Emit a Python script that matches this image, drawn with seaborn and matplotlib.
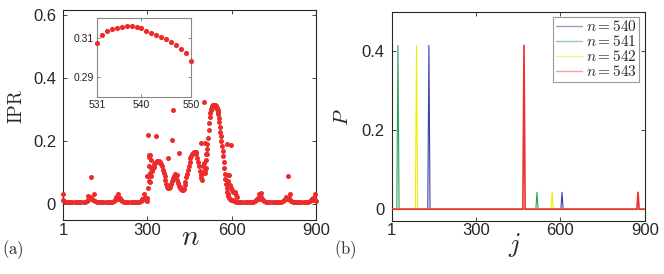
import matplotlib
matplotlib.use('Agg')
import matplotlib.pyplot as plt
from matplotlib.lines import Line2D
import pandas as pd
import seaborn as sns

# ---------------- panel (a): IPR vs n ----------------
n_left = [1, 4, 10, 18, 26, 34, 42, 50, 58, 66, 74, 80, 85, 89, 93, 97, 101, 105, 109, 114,
          120, 128, 136, 144, 152, 160, 168, 175, 181, 186, 190, 194, 198, 202, 206, 211, 217, 225, 233, 241,
          249, 257, 265, 272, 278, 283, 287, 291, 295, 298]
ipr_left = [0.014, 0.010, 0.008, 0.007, 0.007, 0.007, 0.007, 0.007, 0.007, 0.007,
            0.007, 0.008, 0.010, 0.014, 0.019, 0.024, 0.019, 0.016, 0.012, 0.009,
            0.008, 0.007, 0.007, 0.007, 0.007, 0.007, 0.007, 0.008, 0.010, 0.013,
            0.017, 0.021, 0.017, 0.019, 0.013, 0.010, 0.008, 0.007, 0.007, 0.007,
            0.007, 0.007, 0.007, 0.008, 0.010, 0.013, 0.017, 0.021, 0.015, 0.010]

n_mid = [300, 302, 304, 306, 308, 310, 312, 314, 316, 318, 320,
         323, 326, 329, 332, 335, 338, 341, 344, 347, 350, 353, 356, 359, 362, 365, 368, 371, 374, 377, 380,
         384, 388, 392, 396, 400, 403, 406, 409, 412, 415, 418, 421, 424, 427, 430,
         433, 436, 439, 442, 445, 448, 451, 454, 457, 460, 463, 466, 469, 472, 475, 478, 481, 484, 487, 490, 493, 496,
         498, 500, 502, 504, 506, 508, 510, 512, 514,
         516, 518, 520, 522, 524, 526, 528, 530,
         551, 552, 554, 556, 558, 560, 562, 564, 566, 568, 570, 572, 574, 576, 578, 580, 582, 584, 586, 588,
         591, 594, 597, 600]
ipr_mid = [0.020, 0.050, 0.090, 0.120, 0.150, 0.155, 0.140, 0.115, 0.105, 0.110, 0.114,
           0.118, 0.126, 0.131, 0.134, 0.136, 0.137, 0.137, 0.135, 0.132, 0.127, 0.120, 0.110, 0.098, 0.088,
           0.076, 0.064, 0.055, 0.050, 0.052, 0.056,
           0.064, 0.074, 0.082, 0.090, 0.095, 0.090, 0.078, 0.066, 0.058, 0.054, 0.050, 0.047, 0.045, 0.044, 0.048,
           0.060, 0.072, 0.085, 0.097, 0.110, 0.122, 0.134, 0.145, 0.153, 0.159, 0.163, 0.165, 0.166, 0.164,
           0.158, 0.148, 0.135, 0.120, 0.105, 0.092, 0.082, 0.076,
           0.100, 0.120, 0.130, 0.110, 0.100, 0.140, 0.160, 0.175, 0.190,
           0.210, 0.235, 0.258, 0.278, 0.290, 0.298, 0.303, 0.3055,
           0.292, 0.285, 0.272, 0.260, 0.245, 0.230, 0.215, 0.200, 0.185, 0.170, 0.152, 0.134, 0.115, 0.097,
           0.080, 0.065, 0.052, 0.040, 0.032, 0.025,
           0.020, 0.017, 0.015, 0.013]

# zoomed window (also part of the main curve)
n_zoom = [531, 532, 533, 534, 535, 536, 537, 538, 539, 540,
          541, 542, 543, 544, 545, 546, 547, 548, 549, 550]
ipr_zoom = [0.3075, 0.3114, 0.3134, 0.3144, 0.3151, 0.3154, 0.3158, 0.3158, 0.3154, 0.3151,
            0.3137, 0.3125, 0.3115, 0.3103, 0.3092, 0.3080, 0.3063, 0.3044, 0.3022, 0.2980]

n_right = [604, 608, 614, 622, 630, 638, 646, 654, 662, 670, 677, 683, 687, 691, 695, 699, 703, 707, 711, 716,
           722, 730, 738, 746, 754, 762, 770, 777, 783, 788, 792, 796, 800, 804, 808, 812, 817, 824, 832, 840,
           848, 856, 864, 871, 877, 882, 886, 890, 894, 898, 900]
ipr_right = [0.014, 0.010, 0.008, 0.007, 0.007, 0.007, 0.007, 0.007, 0.007, 0.007,
             0.008, 0.010, 0.013, 0.017, 0.021, 0.018, 0.022, 0.016, 0.012, 0.009,
             0.007, 0.007, 0.007, 0.007, 0.007, 0.007, 0.007, 0.008, 0.010, 0.013,
             0.017, 0.021, 0.017, 0.020, 0.014, 0.010, 0.008, 0.007, 0.007, 0.007,
             0.007, 0.007, 0.007, 0.008, 0.010, 0.013, 0.017, 0.020, 0.015, 0.012, 0.010]

n_out = [2, 91, 99, 111, 189, 197, 283, 289,
         301, 303, 305, 307, 309, 311, 313, 331, 374, 388, 392, 405, 414,
         493, 501, 505, 508, 511, 583, 599, 586, 589, 592, 595, 598, 602, 606, 611, 615, 618,
         697, 704, 793, 802, 809, 887, 896]
ipr_out = [0.031, 0.025, 0.087, 0.031, 0.022, 0.031, 0.018, 0.031,
           0.090, 0.218, 0.075, 0.155, 0.100, 0.070, 0.090, 0.215, 0.145, 0.205, 0.299, 0.093, 0.163,
           0.193, 0.323, 0.193, 0.115, 0.160, 0.191, 0.187, 0.092, 0.075, 0.092, 0.060, 0.050, 0.045,
           0.039, 0.039, 0.028, 0.022,
           0.033, 0.035, 0.022, 0.091, 0.031, 0.018, 0.031]

# ---------------- panel (b): P vs j ----------------
series_labels = ['$n = 540$', '$n = 541$', '$n = 542$', '$n = 543$']
j_540 = [1, 129, 133, 137, 602, 606, 610, 900]
p_540 = [0, 0, 0.415, 0, 0, 0.043, 0, 0]
j_541 = [1, 19, 23, 27, 513, 517, 521, 900]
p_541 = [0, 0, 0.415, 0, 0, 0.043, 0, 0]
j_542 = [1, 85, 89, 93, 567, 571, 575, 900]
p_542 = [0, 0, 0.415, 0, 0, 0.043, 0, 0]
j_543 = [1, 467, 471, 475, 872, 876, 880, 900]
p_543 = [0, 0, 0.415, 0, 0, 0.043, 0, 0]
line_colors = ['#4040a8', '#2ea062', '#f2ec00', '#f03030']
line_widths = [0.8, 0.8, 0.8, 1.2]
legend_colors = ['#9a9ad0', '#8ed0a8', '#f5f08a', '#f5a0a0']

RED = '#ec2b2b'

sns.set_style('ticks')
plt.rcParams['font.family'] = ['Liberation Sans', 'DejaVu Sans']
plt.rcParams['mathtext.fontset'] = 'cm'
plt.rcParams['xtick.direction'] = 'in'
plt.rcParams['ytick.direction'] = 'in'
plt.rcParams['xtick.top'] = True
plt.rcParams['ytick.right'] = True
plt.rcParams['axes.linewidth'] = 0.8

fig = plt.figure(figsize=(6.64, 2.74), dpi=100)

# ---- (a)
axa = fig.add_axes([0.0949, 0.197, 0.381, 0.766])
df_a = pd.DataFrame({'n': n_left + n_mid + n_zoom + n_right + n_out,
                     'IPR': ipr_left + ipr_mid + ipr_zoom + ipr_right + ipr_out})
sns.scatterplot(data=df_a, x='n', y='IPR', ax=axa, color=RED, s=13, linewidth=0,
                legend=False, clip_on=False, zorder=3)
axa.set_xlim(1, 900)
axa.set_ylim(-0.05, 0.615)
axa.set_xticks([1, 300, 600, 900])
axa.set_xticklabels(['1', '300', '600', '900'])
axa.set_yticks([0, 0.2, 0.4, 0.6])
axa.set_yticklabels(['0', '0.2', '0.4', '0.6'])
axa.tick_params(labelsize=12, length=3, width=0.6)
axa.tick_params(axis='x', pad=2)
axa.tick_params(axis='y', pad=5)
axa.set_xlabel('$n$', fontsize=21)
axa.xaxis.set_label_coords(0.502, -0.083)
axa.xaxis.label.set_va('center')
axa.set_ylabel(r'$\mathrm{IPR}$', fontsize=13.5)
axa.yaxis.set_label_coords(-0.182, 0.543)
axa.yaxis.label.set_va('center')

# ---- inset
axi = fig.add_axes([0.146, 0.646, 0.1416, 0.288])
df_i = pd.DataFrame({'n': n_zoom, 'IPR': ipr_zoom})
sns.scatterplot(data=df_i, x='n', y='IPR', ax=axi, color=RED, s=14, linewidth=0,
                legend=False, clip_on=False, zorder=3)
axi.set_xlim(531, 550)
axi.set_ylim(0.28, 0.32)
axi.set_xticks([531, 540, 550])
axi.set_yticks([0.29, 0.31])
axi.set_yticklabels(['0.29', '0.31'])
axi.tick_params(labelsize=7.5, length=2, width=0.5, colors='#555555', labelcolor='#222222', pad=2)
for sp in axi.spines.values():
    sp.set_color('#888888')
    sp.set_linewidth(0.8)
axi.set_xlabel('')
axi.set_ylabel('')
axi.set_facecolor('white')

# ---- (b)
axb = fig.add_axes([0.590, 0.1945, 0.381, 0.7625])
for k, (jj, pp, col, lw) in enumerate(zip([j_540, j_541, j_542, j_543],
                                          [p_540, p_541, p_542, p_543], line_colors, line_widths)):
    d = pd.DataFrame({'j': jj, 'P': pp})
    sns.lineplot(data=d, x='j', y='P', color=col, estimator=None, linewidth=lw,
                 ax=axb, zorder=2 + k, legend=False)
axb.set_xlim(1, 900)
axb.set_ylim(-0.029, 0.5)
axb.set_xticks([1, 300, 600, 900])
axb.set_xticklabels(['1', '300', '600', '900'])
axb.set_yticks([0, 0.2, 0.4])
axb.set_yticklabels(['0', '0.2', '0.4'])
axb.tick_params(labelsize=12, length=3, width=0.6)
axb.tick_params(axis='x', pad=2)
axb.tick_params(axis='y', pad=5)
axb.set_xlabel('$j$', fontsize=19)
axb.xaxis.set_label_coords(0.486, -0.116)
axb.xaxis.label.set_va('center')
axb.set_ylabel('$P$', fontsize=15)
axb.yaxis.set_label_coords(-0.194, 0.496)
axb.yaxis.label.set_va('center')
handles = [Line2D([0], [0], color=c, linewidth=1.0) for c in legend_colors]
leg = axb.legend(handles, series_labels, loc='upper right', fontsize=11, frameon=True, fancybox=False,
                 framealpha=1, edgecolor='#999999', handlelength=1.7, handletextpad=0.3,
                 labelspacing=0.0, borderpad=0.15, borderaxespad=0.35)
leg.get_frame().set_linewidth(0.8)

fig.text(0.0196, 0.0876, r'$(\mathrm{a})$', fontsize=12, ha='center', va='center')
fig.text(0.520, 0.0876, r'$(\mathrm{b})$', fontsize=12, ha='center', va='center')

fig.savefig('out.png', dpi=100)
